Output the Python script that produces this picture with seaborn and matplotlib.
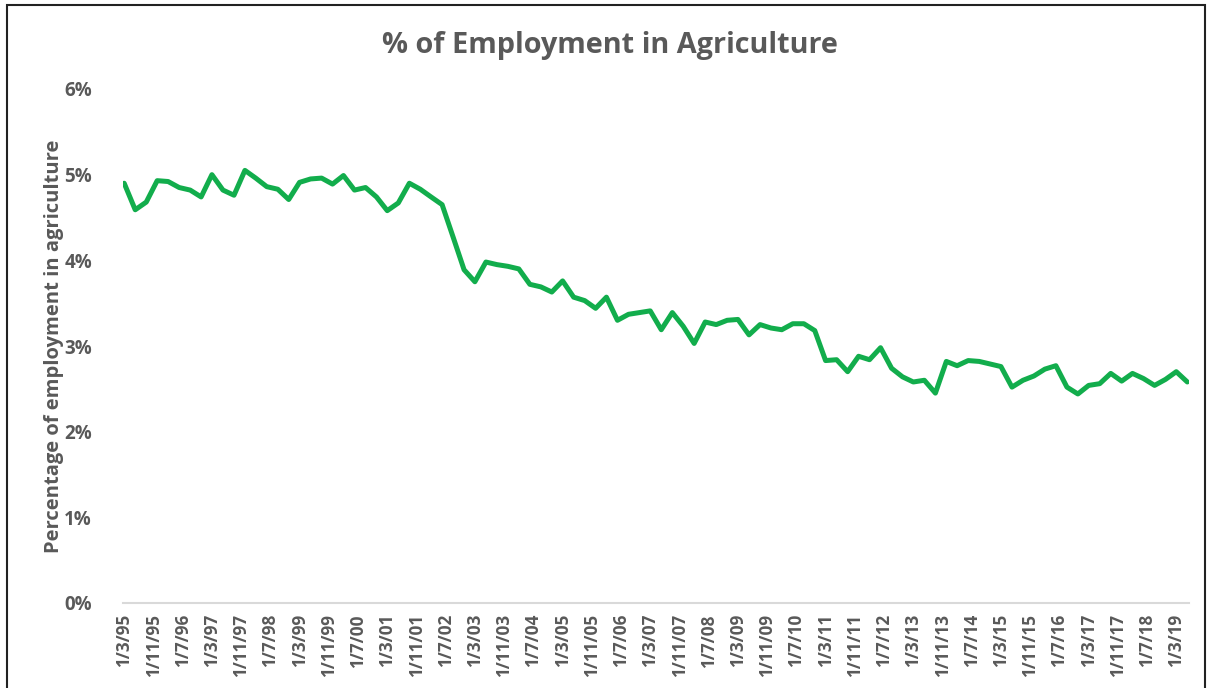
import matplotlib
matplotlib.use("Agg")
import matplotlib.pyplot as plt
import matplotlib.patches as patches
import seaborn as sns
import pandas as pd
import numpy as np

# ---- data (quarterly, starting 1 March 1995) ----
start_date = "1995-03-01"
employment_pct = [
    4.90, 4.59, 4.68, 4.93, 4.92, 4.85, 4.82, 4.74, 5.00, 4.82,
    4.76, 5.05, 4.96, 4.86, 4.83, 4.71, 4.91, 4.95, 4.96, 4.89,
    4.99, 4.82, 4.85, 4.74, 4.58, 4.67, 4.90, 4.83, 4.74, 4.65,
    4.27, 3.89, 3.75, 3.98, 3.95, 3.93, 3.90, 3.72, 3.69, 3.63,
    3.76, 3.57, 3.53, 3.44, 3.57, 3.30, 3.37, 3.39, 3.41, 3.19,
    3.39, 3.23, 3.03, 3.28, 3.25, 3.30, 3.31, 3.13, 3.25, 3.21,
    3.19, 3.26, 3.26, 3.18, 2.83, 2.84, 2.70, 2.88, 2.84, 2.98,
    2.74, 2.64, 2.58, 2.60, 2.45, 2.82, 2.77, 2.83, 2.82, 2.79,
    2.76, 2.52, 2.60, 2.65, 2.73, 2.77, 2.52, 2.44, 2.54, 2.56,
    2.68, 2.59, 2.68, 2.62, 2.54, 2.61, 2.70, 2.58,
]

x_tick_labels = [
    "1/3/95", "1/11/95", "1/7/96", "1/3/97", "1/11/97", "1/7/98", "1/3/99",
    "1/11/99", "1/7/00", "1/3/01", "1/11/01", "1/7/02", "1/3/03", "1/11/03",
    "1/7/04", "1/3/05", "1/11/05", "1/7/06", "1/3/07", "1/11/07", "1/7/08",
    "1/3/09", "1/11/09", "1/7/10", "1/3/11", "1/11/11", "1/7/12", "1/3/13",
    "1/11/13", "1/7/14", "1/3/15", "1/11/15", "1/7/16", "1/3/17", "1/11/17",
    "1/7/18", "1/3/19",
]
y_ticks = [0, 1, 2, 3, 4, 5, 6]
y_tick_labels = ["0%", "1%", "2%", "3%", "4%", "5%", "6%"]

title = "% of Employment in Agriculture"
y_label = "Percentage of employment in agriculture"

# ---- build table ----
dates = pd.date_range(start=start_date, periods=len(employment_pct), freq="3MS")
df = pd.DataFrame({"date": dates, "pct": employment_pct})
tick_dates = pd.date_range(start=start_date, periods=len(x_tick_labels), freq="8MS")

# ---- style ----
sns.set_style("white")
plt.rcParams["font.family"] = ["Open Sans", "DejaVu Sans"]

W, H = 1209, 688
fig = plt.figure(figsize=(W / 100, H / 100), dpi=100)
ax = fig.add_axes([122.5 / W, (H - 603) / H, (1189 - 122.5) / W, (603 - 89) / H])

text_color = "#595959"
line_color = "#12AD4C"

sns.lineplot(data=df, x="date", y="pct", ax=ax, color=line_color, linewidth=3.6)

ax.set_ylim(0, 6)
ax.set_xlim(dates[0] - pd.Timedelta(days=14), dates[-1] + pd.Timedelta(days=14))
ax.set_yticks(y_ticks)
ax.set_yticklabels(y_tick_labels, fontsize=13.5, fontweight="bold", color=text_color)
ax.set_xticks(tick_dates)
ax.set_xticklabels(x_tick_labels, rotation=90, fontsize=12.3, fontweight="bold",
                   color=text_color)
ax.tick_params(axis="both", length=0)
ax.tick_params(axis="y", pad=22)
ax.tick_params(axis="x", pad=8)

ax.set_xlabel("")
ax.set_ylabel(y_label, fontsize=14.5, fontweight="bold", color=text_color)
ax.yaxis.set_label_coords(-(122.5 - 64) / (1189 - 122.5), 0.5)

for s in ["top", "right", "left"]:
    ax.spines[s].set_visible(False)
ax.spines["bottom"].set_color("#d9d9d9")
ax.spines["bottom"].set_linewidth(1.5)
ax.grid(False)

fig.text(0.5 + 5 / W, 1 - 45 / H, title, ha="center", va="center",
         fontsize=20.8, fontweight="bold", color=text_color)

# outer frame
rect = patches.Rectangle((7 / W, -0.02), (1205 - 7) / W, 1 - 5 / H + 0.02,
                         transform=fig.transFigure, fill=False,
                         edgecolor="#222222", linewidth=1.5)
fig.patches.append(rect)

fig.savefig("out.png", dpi=100)
